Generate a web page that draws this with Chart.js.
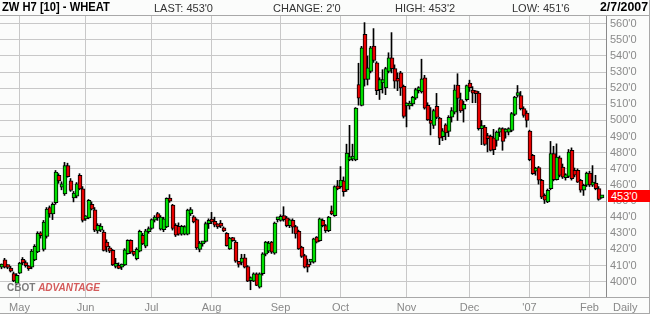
<!DOCTYPE html>
<html>
<head>
<meta charset="utf-8">
<script src="https://cdn.jsdelivr.net/npm/chart.js@4.4.0/dist/chart.umd.min.js"></script>
<style>
  body { margin: 0; background: #fff; }
  #wrap { position: relative; width: 650px; height: 314px; background: #fbfcfb; overflow: hidden;
          font-family: "Liberation Sans", Arial, sans-serif; }
  #chart { position: absolute; left: 0; top: 0; }
  .hd { position: absolute; top: 2px; font-size: 11px; line-height: 12px; color: #333; white-space: nowrap; }
  .hd.b { font-weight: bold; font-size: 13px; color: #000; top: 1px; transform-origin: left top; }
  #price { position: absolute; left: 608px; width: 42px; height: 12px; background: #f00; color: #fff;
           font-size: 11px; line-height: 12px; padding-left: 3px; box-sizing: border-box; }
  #mark { position: absolute; left: 7px; top: 282px; font-size: 10px; font-weight: bold; white-space: nowrap; }
  #daily { position: absolute; left: 613px; top: 301px; font-size: 11px; color: #888; }
</style>
</head>
<body>
<div id="wrap">
  <canvas id="chart" width="650" height="314"></canvas>
  <div class="hd b" style="left:2px; transform:scaleX(0.86)">ZW H7 [10] - WHEAT</div>
  <div class="hd" style="left:154px">LAST: 453'0</div>
  <div class="hd" style="left:273px">CHANGE: 2'0</div>
  <div class="hd" style="left:395px">HIGH: 453'2</div>
  <div class="hd" style="left:512px">LOW: 451'6</div>
  <div class="hd b" style="left:600px; transform:scaleX(0.95)">2/7/2007</div>
  <div id="mark"><span style="color:#7c7c7c">CBOT</span> <span style="color:#d45c5c; font-style:italic">ADVANTAGE</span></div>
  <div id="daily">Daily</div>
  <div id="price">453'0</div>
</div>
<script>
// daily bars, 21 Apr 2006 .. 7 Feb 2007 (one entry per trading day)
const opens = [409,413.5,410,408.5,405,399,405.3,413.8,411.5,409.5,409,413.5,418.5,430,420,428,446,442,449,466,
  458.6,454.5,472,462.5,452,453,466,457.6,439,439.6,448,444.6,431.5,432,430.7,424.5,421,419.4,409.5,410,
  409,410.4,417.3,425.6,418.3,414.2,419,428.8,422,431,433,438.2,442.3,432.5,432.3,434,451.7,447.5,435,434.4,
  429.4,429.5,429.4,442,440.2,438.5,420,423.5,425,436,438,437.5,435,436,433,430,420.4,426.6,424.5,412.1,
  412,414.8,409.4,400.7,400.3,404.9,396.6,404.9,417,419,424.5,417.7,438.4,438,441,439.6,434.8,438,434.2,431.3,
  421.4,416.2,410.5,412.1,412.1,427.6,425.5,438,434.8,431.7,443.5,441,458.6,459,462.5,456.9,475.6,476,475.6,522.2,
  509.4,553.4,525.4,530.5,546.1,535.7,519.1,523.3,520.2,530.5,538.8,532.2,526,529.5,521.2,509,509,510.2,513.9,518.5,
  517.7,526.4,509.4,499.4,496.9,508.8,501.5,489.9,497.3,493.2,502.1,505.2,522,513,507,512.9,523.2,518.6,517.6,517,
  494.9,495.9,490.7,490.1,489.3,487.6,492.8,494.9,492.8,492.8,493.8,503.8,515.5,515.5,507.3,504.6,493.4,478.3,468.6,470.7,
  462.9,453.6,449.4,457.7,479.4,463.3,476.9,471.1,464.5,465.3,481.4,469,469,462.9,456.7,459.8,467.4,459.8,461.2,457.7,
  452]
const highs = [411,414.5,410.5,409.5,406,405,412,415,413,410,420,423,431,431,438,446,447,449,469,467,
  462,474,473.5,464,456,461.5,467,459,441,451,449.5,446,436,436,432,426,422,420,414.5,411.7,
  411,420.5,426,426,419,421,432,430,432.5,434,439,441,443,441,440,452,454,448,436,436.5,
  435,434.8,445,446,441,439,425,425,437,439,443,440,436,438,434,430.5,427.5,427.5,425.5,412.5,
  417,417,410,403,405.5,405.5,405.5,418,425,425,425,437,440,441.5,446.5,440.5,439,439,435,432,
  422,417,414,413.5,427,428,439.5,439,435.5,440.5,447,459.5,462.8,471.4,465,485.3,497,485.3,508,535.5,
  546,560.7,540,546,557,536.5,526.5,531.5,533,542,554.5,534.5,529.5,530.5,522,511,512,515,520,521,
  538,528,511,508,507,516.8,502,495,498,503,508,522,529,517,512,522,525,521,518.5,518,
  500,497,492,491,494.5,493.5,495.5,495.5,495,495.5,505,515,521.7,518,508.5,506,494,479,471,471.5,
  463.5,454.5,457.5,487,484,485.5,478,473,467,482,483,470.5,470,463.5,460.5,468,468.5,472,466,459,
  453.25]
const lows = [408,408.5,408,406,400,398,405,410.5,409,407,408,413,418,427,419,427,440,438.5,448,461,
  457,453.5,464.8,456,449.5,452,457,437,438,439,444.5,431,430,431,419,418.5,418,410,408.5,408,
  407.5,410,417,417.5,416,413.5,418.5,423,421,430,432.5,437,438,432,431,433.5,449.2,432,428,428.8,
  428.8,429,429,441,436.5,420,418.5,422,424.5,433,436,434,433,433.5,431,422,420,425,412,409,
  410.5,408.5,400,395,400,397.5,396,404,416,418,417.5,417,437,437.5,437.5,434,433.5,430,427,420,
  415,408.5,406,410.5,411.5,424,425,434,430.5,431,441.5,440.5,457,458,453,456,475,475,475,509.5,
  509,521.3,522,529.5,536,516,513,517,516,529.5,529.5,520,518.5,515.5,501.5,496,507,509,513,517,
  517,507,500,491,495,501,485,487.5,488,490,499,504,500,505,499,512,518,511,511,494,
  485,484.5,480.5,481,478.8,484,490,481.5,489,491,493,503,514.5,506.5,502,495.9,475,466.5,466,460.5,
  451.5,448.5,449,457,462.5,463,465,464,463,464.5,463,465,461.5,455.5,453.5,459,459,459,457,450.5,
  451.75]
const closes = [410.5,409,408.8,406.5,400.5,404,411.6,411.6,410,408,419,422,430,428.5,437,445,442,448,468,462.5,
  460.7,472,465.2,456.6,455,460.7,457.6,438,440.3,450.4,445,432,435,434.5,419.4,421.5,419,410.4,410.5,408.3,
  410,419.8,425.6,418.3,416.9,420,431.3,423.5,431.5,433,438.5,440,439.5,440,439,451.7,450,433,428.8,429.4,
  434.4,434.2,444.4,444.8,437.1,421,424,424.5,436,438,437,435,434,434.5,431.5,422.4,427,425.5,412.7,410.7,
  414.6,409,400.3,402,404.9,397.7,404.9,417.3,424.5,424,418.3,436.3,439.6,440.5,438.4,434.8,438.4,433.8,429.7,420.4,
  415.6,409,409,413.1,426.6,424.5,439,434.8,431.7,440,442.1,459,457.6,463,455.9,479.7,477.6,477.5,507.7,513.9,
  545,525.4,532.6,545,537.2,518.5,525.4,525.4,532.2,538.8,532.2,524.3,524.3,520.2,502.5,510.5,510.5,514.4,519.1,520.2,
  525.8,507.7,500.4,498.2,506.1,501.9,489,493.6,492.2,501.9,506.2,519,513.7,506,510,521.7,520.3,517,516.6,494.9,
  495.9,485.2,488.7,481.4,481.9,492.8,494.9,487,494,494.9,504.2,514.5,517,507.3,503.1,500,475.7,467,470,462.9,
  452.5,450.5,456.7,479.4,463.3,477.3,465.9,464.9,466,480.4,463.9,466,461.8,456.7,459.8,467.4,460,461.8,457.7,451,
  453]

// month starts (trading-day index) and their labels
const monthIdx = [6, 28, 50, 70, 93, 113, 135, 156, 176, 196]
const monthLabels = ['May', 'Jun', 'Jul', 'Aug', 'Sep', 'Oct', 'Nov', 'Dec', "'07", 'Feb']
const priceTicks = [400, 410, 420, 430, 440, 450, 460, 470, 480, 490, 500, 510, 520, 530, 540, 550, 560]
const lastPrice = 453

const upColor = '#00e000'
const downColor = '#e80000'

const wickData = []
const bodyData = []
const bodyColors = []
for (let i = 0; i < opens.length; i++) {
    wickData.push({x: i, y: [lows[i], highs[i]]})
    bodyData.push({x: i, y: [opens[i], closes[i]]})
    bodyColors.push(closes[i] >= opens[i] ? upColor : downColor)
}

// lines that run outside the plot area + last price box
const framePlugin = {
    id: 'frame',
    afterDraw(chart) {
        const ctx = chart.ctx
        const area = chart.chartArea
        ctx.save()
        ctx.strokeStyle = '#a8a8a8'
        ctx.lineWidth = 1
        ctx.beginPath()
        ctx.moveTo(0, area.top - 0.5); ctx.lineTo(650, area.top - 0.5)
        ctx.moveTo(0, area.bottom + 0.5); ctx.lineTo(650, area.bottom + 0.5)
        ctx.moveTo(0, 313.5); ctx.lineTo(650, 313.5)
        ctx.moveTo(649.5, 0); ctx.lineTo(649.5, 314)
        ctx.stroke()
        ctx.restore()
        const y = chart.scales.y.getPixelForValue(lastPrice)
        document.getElementById('price').style.top = Math.round(y - 6) + 'px'
    }
}

const labelFont = {family: '"Liberation Sans", Arial, sans-serif', size: 11}
const nDays = opens.length

new Chart(document.getElementById('chart'), {
    type: 'bar',
    data: {
        datasets: [{
            data: wickData,
            backgroundColor: '#000',
            barThickness: 1,
            grouped: false,
            order: 2
        }, {
            // bodies sit on a hidden copy of the x axis shifted half a pixel so 4px boxes land on whole pixels
            data: bodyData,
            xAxisID: 'xb',
            backgroundColor: bodyColors,
            borderColor: '#000',
            borderWidth: 1,
            borderSkipped: false,
            barThickness: 4,
            minBarLength: 3,
            grouped: false,
            order: 1
        }]
    },
    options: {
        responsive: false,
        animation: false,
        devicePixelRatio: 1,
        layout: {padding: {top: 16, left: 0, right: 0, bottom: 0}},
        plugins: {legend: {display: false}, tooltip: {enabled: false}},
        scales: {
            x: {
                type: 'linear',
                offset: false,
                min: -0.5,
                max: nDays + 0.5,
                afterBuildTicks: function (axis) {
                    axis.ticks = monthIdx.map(v => ({value: v}))
                },
                afterFit: function (axis) { axis.height = 17 },
                grid: {color: '#c8c8c8', drawTicks: false, offset: false},
                border: {color: '#a8a8a8'},
                ticks: {
                    autoSkip: false,
                    maxRotation: 0,
                    padding: 4,
                    color: '#888',
                    font: labelFont,
                    callback: function (v) {
                        const k = monthIdx.indexOf(v)
                        return k >= 0 ? monthLabels[k] : ''
                    }
                }
            },
            xb: {
                type: 'linear',
                display: false,
                offset: false,
                min: -0.5 - 1 / 6,
                max: nDays + 0.5 - 1 / 6
            },
            y: {
                position: 'right',
                min: 390.5,
                max: 564.8,
                afterBuildTicks: function (axis) {
                    axis.ticks = priceTicks.map(v => ({value: v}))
                },
                afterFit: function (axis) { axis.width = 44 },
                grid: {color: '#c8c8c8', drawTicks: false},
                border: {color: '#8a8a8a'},
                ticks: {
                    padding: 4,
                    color: '#8a8a8a',
                    font: labelFont,
                    callback: function (v) { return v + "'0" }
                }
            }
        }
    },
    plugins: [framePlugin]
})
</script>
</body>
</html>
